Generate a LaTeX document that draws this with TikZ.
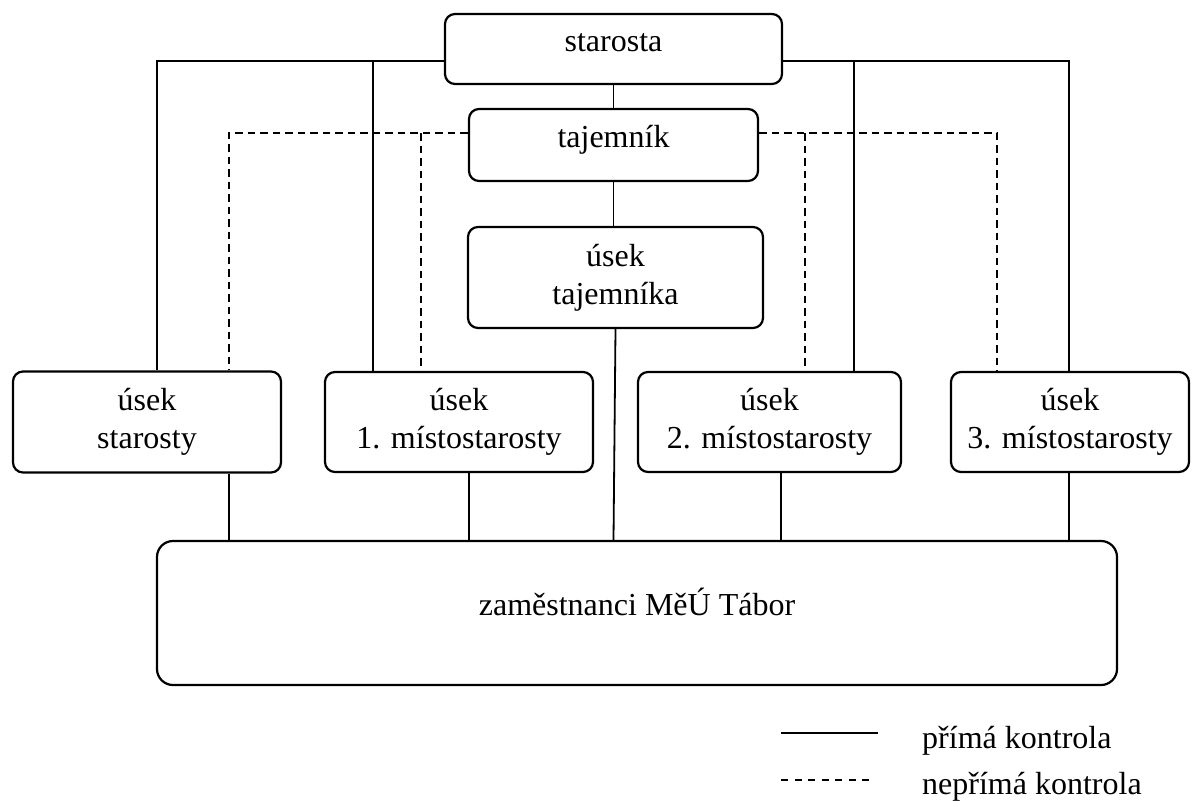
\documentclass[tikz,border=0pt]{standalone}
\usepackage{fontspec}
\setmainfont{Liberation Serif}
\begin{document}
\begin{tikzpicture}[x=1pt,y=-1pt,
  txt/.style={font=\fontsize{32}{38}\selectfont},
  box/.style={txt, draw, line width=2.2pt, rounded corners=10pt, align=center, inner sep=0pt},
  oneline/.style={text height=0.72em, text depth=0.22em},
  link/.style={line width=1.8pt},
  ilink/.style={line width=1.8pt, dash pattern=on 7.5pt off 5pt},
]
\useasboundingbox (0,0) rectangle (1203,801);

% management
\node[box, oneline, minimum width=337pt, minimum height=70pt] (sta) at (613.5,49) {starosta};
\node[box, oneline, minimum width=289pt, minimum height=72pt] (taj) at (613.5,145) {tajemník};
\node[box, minimum width=295pt, minimum height=101pt] (tu) at (615.5,277.5) {úsek\\tajemníka};

% sections
\node[box, minimum width=268pt, minimum height=101pt] (b0) at (147,422) {úsek\\starosty};
\node[box, minimum width=268pt, minimum height=100pt] (b1) at (459,422) {úsek\\1. místostarosty};
\node[box, minimum width=263pt, minimum height=100pt] (b2) at (769.5,422) {úsek\\2. místostarosty};
\node[box, minimum width=238pt, minimum height=100pt] (b3) at (1070,422) {úsek\\3. místostarosty};

% staff
\node[box, oneline, rounded corners=16pt, minimum width=960pt, minimum height=144pt] (big) at (637,613) {zaměstnanci MěÚ Tábor};

% branch points
\coordinate (sL) at (157,61);
\coordinate (sL1) at (373,61);
\coordinate (sR) at (1069,61);
\coordinate (sR1) at (854,61);
\coordinate (dL) at (229,133);
\coordinate (dL1) at (421,133);
\coordinate (dR) at (997,133);
\coordinate (dR1) at (805,133);

% direct control
\draw[link] ([yshift=-12pt]sta.west) -- (sL) -- (sL |- b0.north);
\draw[link] (sL1) -- (sL1 |- b1.north);
\draw[link] ([yshift=-12pt]sta.east) -- (sR) -- (sR |- b3.north);
\draw[link] (sR1) -- (sR1 |- b2.north);
\draw[link] (sta.south) -- (taj.north);
\draw[link] (taj.south) -- (taj.south |- tu.north);
\draw[link] (tu.south) -- (taj.south |- big.north);

% indirect control
\draw[ilink] ([yshift=12pt]taj.west) -- (dL) -- (dL |- b0.north);
\draw[ilink] (dL1) -- (dL1 |- b1.north);
\draw[ilink] ([yshift=12pt]taj.east) -- (dR) -- (dR |- b3.north);
\draw[ilink] (dR1) -- (dR1 |- b2.north);

% sections to staff
\draw[link] (dL |- b0.south) -- (dL |- big.north);
\draw[link] ([xshift=10pt]b1.south) -- ([xshift=10pt]b1.south |- big.north);
\draw[link] ([xshift=11.5pt]b2.south) -- ([xshift=11.5pt]b2.south |- big.north);
\draw[link] ([xshift=-1pt]b3.south) -- ([xshift=-1pt]b3.south |- big.north);

% legend
\coordinate (la) at (781,733);
\coordinate (lb) at (878,733);
\coordinate (lc) at (781,780);
\coordinate (ld) at (873,780);
\draw[link, line width=2.2pt] (la) -- (lb);
\draw[line width=1.5pt, dash pattern=on 7pt off 6.5pt] (lc) -- (ld);
\node[txt, anchor=base west, inner sep=0pt] (t1) at (922,748) {přímá kontrola};
\node[txt, anchor=base west, inner sep=0pt] (t2) at (922,794) {nepřímá kontrola};
\end{tikzpicture}
\end{document}
